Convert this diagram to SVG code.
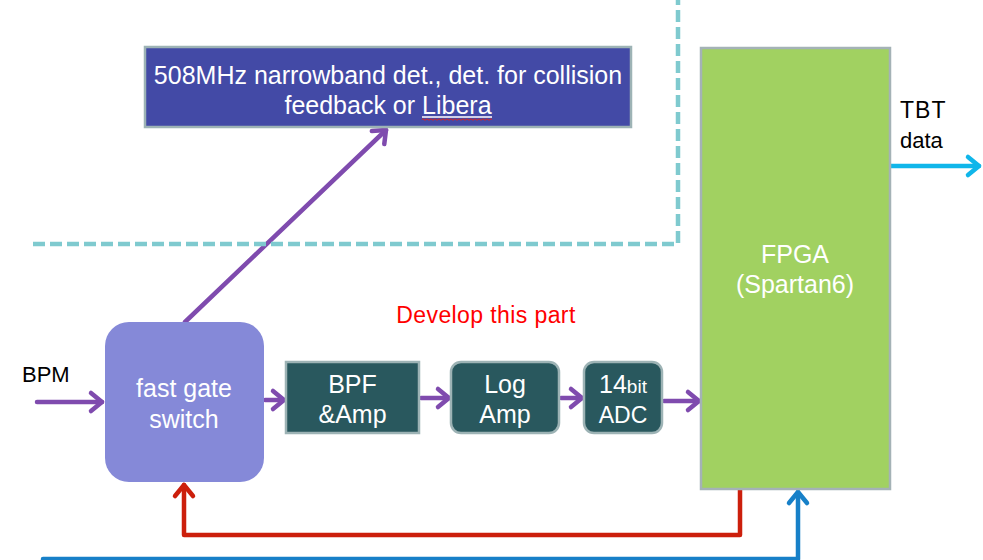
<svg xmlns="http://www.w3.org/2000/svg" width="983" height="560" viewBox="0 0 983 560">
<style>
text{font-family:"Liberation Sans",Arial,sans-serif}
.w{fill:#fff;text-anchor:middle}
.k{fill:#000}
.dk{fill:#29585E;stroke:#9DB3B5;stroke-width:2.5}
.c{fill:none;stroke-width:4.5;stroke-linecap:round;stroke-linejoin:round}
.p{stroke:#7F4BAE}
</style>
<defs>
<marker id="ap" markerUnits="userSpaceOnUse" viewBox="-16 -12 20 24" markerWidth="20" markerHeight="24" refX="0" refY="0" orient="auto" overflow="visible">
<path d="M-11,-9 L0,0 L-11,9" fill="none" stroke="#7F4BAE" stroke-width="4.5" stroke-linecap="round" stroke-linejoin="round"/>
</marker>
<marker id="ar" markerUnits="userSpaceOnUse" viewBox="-16 -12 20 24" markerWidth="20" markerHeight="24" refX="0" refY="0" orient="auto" overflow="visible">
<path d="M-11,-9 L0,0 L-11,9" fill="none" stroke="#CC1F0C" stroke-width="4.5" stroke-linecap="round" stroke-linejoin="round"/>
</marker>
<marker id="ab" markerUnits="userSpaceOnUse" viewBox="-16 -12 20 24" markerWidth="20" markerHeight="24" refX="0" refY="0" orient="auto" overflow="visible">
<path d="M-11,-9 L0,0 L-11,9" fill="none" stroke="#1780C8" stroke-width="4.5" stroke-linecap="round" stroke-linejoin="round"/>
</marker>
<marker id="ac" markerUnits="userSpaceOnUse" viewBox="-16 -12 20 24" markerWidth="20" markerHeight="24" refX="0" refY="0" orient="auto" overflow="visible">
<path d="M-11,-9 L0,0 L-11,9" fill="none" stroke="#10B6EA" stroke-width="4.5" stroke-linecap="round" stroke-linejoin="round"/>
</marker>
</defs>
<rect width="983" height="560" fill="#fff"/>

<g id="connectors">
<path class="c p" d="M185,322 L386,130" marker-end="url(#ap)"/>
<path d="M33,244 L678,244 L678,0" fill="none" stroke="#7FCACF" stroke-width="4.5" stroke-dasharray="12,5"/>
<path class="c p" d="M37,402 L102,402" marker-end="url(#ap)"/>
<path class="c p" d="M265,400 L284,400" marker-end="url(#ap)"/>
<path class="c p" d="M421,398 L449,398" marker-end="url(#ap)"/>
<path class="c p" d="M561,398 L582,398" marker-end="url(#ap)"/>
<path class="c p" d="M664,401 L699,401" marker-end="url(#ap)"/>
<path class="c" stroke="#10B6EA" d="M891,166 L979,166" marker-end="url(#ac)"/>
<path class="c" stroke="#CC1F0C" d="M740,490 L740,535 L184,535 L184,485" marker-end="url(#ar)"/>
<path class="c" stroke="#1780C8" stroke-linecap="butt" d="M43,559 L798,559 L798,492" marker-end="url(#ab)"/>
</g>

<g id="det">
<rect x="145" y="47" width="486" height="80" fill="#434AA6" stroke="#9DB3B5" stroke-width="2.5"/>
<text class="w" x="388" y="84" font-size="25">508MHz narrowband det., det. for collision</text>
<text class="w" x="388" y="114" font-size="25">feedback or Libera</text>
<line x1="422" y1="117" x2="492" y2="117" stroke="#fff" stroke-width="1.3"/>
<path d="M422,119.5 q1,-1.5 2,0 t2,0 t2,0 t2,0 t2,0 t2,0 t2,0 t2,0 t2,0 t2,0 t2,0 t2,0 t2,0 t2,0 t2,0 t2,0 t2,0 t2,0 t2,0 t2,0 t2,0 t2,0 t2,0 t2,0 t2,0 t2,0 t2,0 t2,0 t2,0 t2,0 t2,0 t2,0 t2,0 t2,0 t2,0" fill="none" stroke="#D22" stroke-width="1"/>
</g>

<g id="bpm"><text class="k" x="22" y="382" font-size="22">BPM</text></g>

<g id="switch">
<rect x="105" y="322" width="159" height="160" rx="24" fill="#8589D8"/>
<text class="w" x="184" y="397" font-size="25">fast gate</text>
<text class="w" x="184" y="428" font-size="25">switch</text>
</g>

<g id="bpf">
<rect class="dk" x="286" y="362" width="133" height="71"/>
<text class="w" x="352.5" y="393" font-size="25">BPF</text>
<text class="w" x="352.5" y="423" font-size="25">&amp;Amp</text>
</g>

<g id="logamp">
<rect class="dk" x="451" y="362" width="108" height="71" rx="10"/>
<text class="w" x="505" y="393" font-size="25">Log</text>
<text class="w" x="505" y="423" font-size="25">Amp</text>
</g>

<g id="adc">
<rect class="dk" x="584" y="362" width="78" height="71" rx="10"/>
<text class="w" x="623" y="393" font-size="25">14<tspan font-size="19">bit</tspan></text>
<text class="w" x="623" y="423" font-size="23">ADC</text>
</g>

<g id="fpga">
<rect x="701" y="48" width="189" height="441" fill="#A1D161" stroke="#A4B2B6" stroke-width="2.5"/>
<text class="w" x="795" y="263" font-size="25">FPGA</text>
<text class="w" x="795" y="293" font-size="25">(Spartan6)</text>
</g>

<g id="tbt">
<text class="k" x="900" y="118" font-size="23" letter-spacing="1">TBT</text>
<text class="k" x="900" y="148" font-size="22">data</text>
</g>

<g id="develop"><text x="486" y="323" font-size="23" fill="#F00" text-anchor="middle" letter-spacing="0.4">Develop this part</text></g>
</svg>
